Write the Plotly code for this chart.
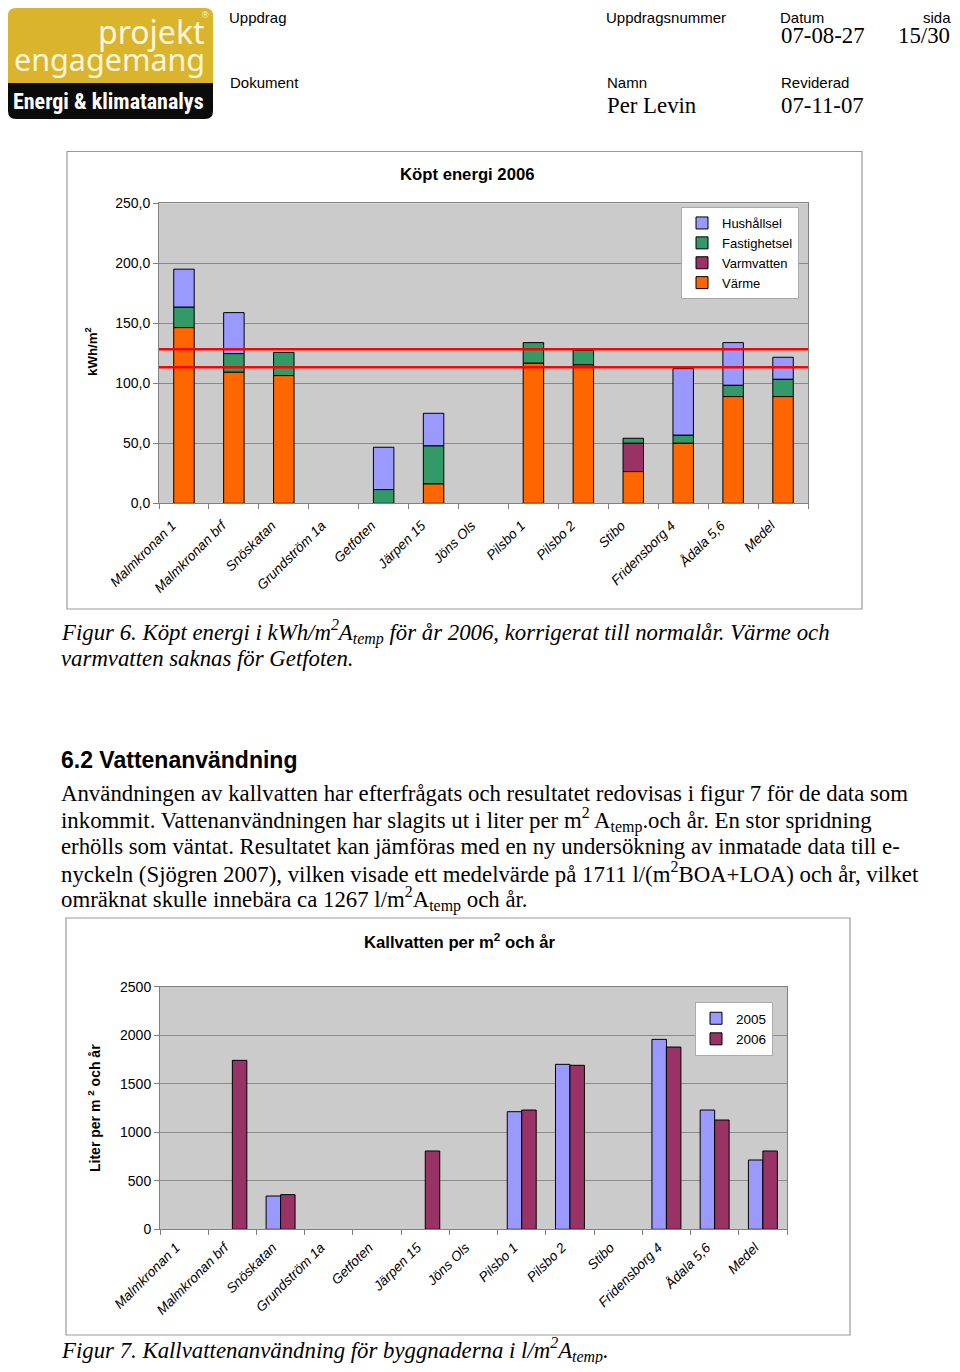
import plotly.graph_objects as go

# The page body has an 8px default margin. To avoid scrollbars the figure is
# 952x1356; all positions below are given in page pixels and shifted by 8.
OFF = 8
W, H = 960 - OFF, 1372 - 2 * OFF


def px(x):
    return (x - OFF) / W


def py(y):
    return 1 - (y - OFF) / H


# ---------------- data ----------------
categories = ["Malmkronan 1", "Malmkronan brf", "Snöskatan", "Grundström 1a", "Getfoten",
              "Järpen 15", "Jöns Ols", "Pilsbo 1", "Pilsbo 2", "Stibo", "Fridensborg 4",
              "Ådala 5,6", "Medel"]

varme = [146.4, 109.2, 106.4, 0, 0, 16.1, 0, 116.7, 115.3, 26.4, 50.0, 88.9, 88.9]
varmvatten = [0, 0, 0, 0, 0, 0, 0, 0, 0, 23.6, 0, 0, 0]
fastighetsel = [17.0, 15.5, 19.4, 0, 11.4, 31.7, 0, 17.2, 12.2, 4.2, 6.7, 9.4, 14.4]
hushallsel = [31.7, 34.2, 0, 0, 35.3, 27.2, 0, 0, 0, 0, 55.5, 35.6, 18.4]
ref_lines = [128.3, 113.3]

kallvatten_2005 = [0, 0, 343, 0, 0, 0, 0, 1212, 1700, 0, 1957, 1229, 714]
kallvatten_2006 = [0, 1741, 357, 0, 0, 807, 0, 1229, 1690, 0, 1878, 1126, 807]

SANS = "Liberation Sans, Arial, sans-serif"
SERIF = "Liberation Serif, Times New Roman, serif"


def nz(vals):
    return [v if v else None for v in vals]


fig = go.Figure()

# ---------------- chart 1: stacked ----------------
stack = [("Värme", varme, "#FF6600"), ("Varmvatten", varmvatten, "#993366"),
         ("Fastighetsel", fastighetsel, "#339966"), ("Hushållsel", hushallsel, "#9999FF")]
bases = []
run = [0.0] * len(categories)
for name, vals, col in stack:
    bases.append(list(run))
    run = [a + b for a, b in zip(run, vals)]

for (name, vals, col), base in reversed(list(zip(stack, bases))):
    fig.add_trace(go.Bar(
        x=categories, y=nz(vals), base=base, name=name, width=0.41,
        marker=dict(color=col, line=dict(color="black", width=1)),
        xaxis="x", yaxis="y", legend="legend"))

# ---------------- chart 2: grouped ----------------
fig.add_trace(go.Bar(x=categories, y=nz(kallvatten_2005), name="2005", offset=-0.3, width=0.3,
                     marker=dict(color="#9999FF", line=dict(color="black", width=1)),
                     xaxis="x2", yaxis="y2", legend="legend2"))
fig.add_trace(go.Bar(x=categories, y=nz(kallvatten_2006), name="2006", offset=0.0, width=0.3,
                     marker=dict(color="#993366", line=dict(color="black", width=1)),
                     xaxis="x2", yaxis="y2", legend="legend2"))

xcommon = dict(type="category", range=[-0.5, 12.5], tickangle=-45, ticks="outside",
               tickson="boundaries", ticklen=5, tickcolor="#808080", showline=True,
               linecolor="#808080", mirror=True, showgrid=False, fixedrange=True,
               automargin=False,
               tickfont=dict(family=SANS, size=13.6, color="black", style="italic"))
ycommon = dict(ticks="outside", ticklen=5, tickcolor="#808080", showline=True,
               linecolor="#808080", mirror=True, gridcolor="#8a8a8a", gridwidth=1,
               zeroline=False, automargin=False,
               tickfont=dict(family=SANS, size=14, color="black"))

fig.update_layout(
    width=W, height=H, margin=dict(l=0, r=0, t=0, b=0, pad=0, autoexpand=False),
    autosize=False, paper_bgcolor="white", plot_bgcolor="#CBCBCB", barmode="overlay",
    separators=",.", showlegend=True,
    xaxis=dict(domain=[px(159), px(808)], anchor="y", ticklabelshift=-12,
               ticklabelstandoff=8, **xcommon),
    yaxis=dict(domain=[py(503.3), py(203.3)], anchor="x", range=[0, 250], dtick=50,
               tickformat=".1f", **ycommon),
    xaxis2=dict(domain=[px(160), px(787)], anchor="y2", ticklabelshift=-8,
                ticklabelstandoff=4, **xcommon),
    yaxis2=dict(domain=[py(1229.3), py(986.7)], anchor="x2", range=[0, 2500], dtick=500,
                tickformat="d", **ycommon),
    legend=dict(x=px(681), y=py(207), xanchor="left", yanchor="top", bgcolor="white",
                bordercolor="#aaaaaa", borderwidth=1, traceorder="normal",
                font=dict(family=SANS, size=13, color="black"), itemwidth=30),
    legend2=dict(x=px(695), y=py(1002), xanchor="left", yanchor="top", bgcolor="white",
                 bordercolor="#aaaaaa", borderwidth=1, traceorder="normal",
                 font=dict(family=SANS, size=13.5, color="black"), itemwidth=30),
)

shapes = []
# red reference lines
for v in ref_lines:
    shapes.append(dict(type="line", xref="x domain", yref="y", x0=0, x1=1, y0=v, y1=v,
                       line=dict(color="#FF0000", width=2.5)))
# chart frames
for (x0, y0, x1, y1) in [(67, 151.5, 862, 609), (66, 918, 850, 1335)]:
    shapes.append(dict(type="rect", xref="paper", yref="paper", x0=px(x0), x1=px(x1),
                       y0=py(y1), y1=py(y0), line=dict(color="#999999", width=1.2)))


# logo
def rpath(x0, y0, x1, y1, r, top=True, bottom=True):
    rx, ry = r / W, r / H
    X0, X1, Y0, Y1 = px(x0), px(x1), py(y0), py(y1)  # Y0 top (larger)
    p = []
    if top:
        p.append(f"M{X0},{Y0 - ry} Q{X0},{Y0} {X0 + rx},{Y0} L{X1 - rx},{Y0} Q{X1},{Y0} {X1},{Y0 - ry}")
    else:
        p.append(f"M{X0},{Y0} L{X1},{Y0}")
    if bottom:
        p.append(f"L{X1},{Y1 + ry} Q{X1},{Y1} {X1 - rx},{Y1} L{X0 + rx},{Y1} Q{X0},{Y1} {X0},{Y1 + ry} Z")
    else:
        p.append(f"L{X1},{Y1} L{X0},{Y1} Z")
    return " ".join(p)


shapes.append(dict(type="path", xref="paper", yref="paper", path=rpath(8, 8, 213, 84, 8, True, False),
                   fillcolor="#DAB42C", line=dict(width=0)))
shapes.append(dict(type="path", xref="paper", yref="paper", path=rpath(8, 83, 213, 119, 8, False, True),
                   fillcolor="#0b0b0b", line=dict(width=0)))
fig.update_layout(shapes=shapes)

ann = []
PADX = 3  # annotation text box inner padding


def text(x, y, t, size, family=SANS, xanchor="left", yanchor="middle", color="black", **kw):
    if xanchor == "left":
        x -= PADX
    elif xanchor == "right":
        x += PADX
    ann.append(dict(x=px(x), y=py(y), xref="paper", yref="paper", text=t, showarrow=False,
                    xanchor=xanchor, yanchor=yanchor, align=kw.pop("align", "left"),
                    font=dict(family=family, size=size, color=color), **kw))


# logo texts
text(204, 31, "projekt", 32, family="Noto Sans, Liberation Sans", xanchor="right", color="#FFF6DC")
text(204, 59, "engagemang", 30.5, family="Noto Sans, Liberation Sans", xanchor="right", color="#FFF6DC")
text(205, 15, "®", 9, xanchor="center", color="#FFF6DC")
text(108, 101, "<b>Energi & klimatanalys</b>", 22,
     family="Liberation Sans Narrow, Roboto Condensed, Liberation Sans", xanchor="center", color="white")

# header (top row sits as high as the page allows)
TOP = 8
RIGHT = 949
text(231, TOP, "Uppdrag", 15, yanchor="top", borderpad=0)
text(608, TOP, "Uppdragsnummer", 15, yanchor="top", borderpad=0)
text(782, TOP, "Datum", 15, yanchor="top", borderpad=0)
text(RIGHT, TOP, "sida", 15, xanchor="right", yanchor="top", borderpad=0)
text(782, 36, "07-08-27", 22.8, family=SERIF)
text(RIGHT, 36, "15/30", 22.8, family=SERIF, xanchor="right")
text(231, 82, "Dokument", 15)
text(608, 82, "Namn", 15)
text(782, 82, "Reviderad", 15)
text(608, 106, "Per Levin", 22.8, family=SERIF)
text(782, 106, "07-11-07", 22.8, family=SERIF)

# chart titles and axis titles
text(467, 174, "<b>Köpt energi 2006</b>", 16.7, xanchor="center")
text(91, 352, "<b>kWh/m<sup>2</sup></b>", 13.3, xanchor="center", textangle=-90)
text(460, 941, "<b>Kallvatten per m<sup>2</sup> och år</b>", 16.7, xanchor="center")
text(94, 1108, "<b>Liter per m <sup>2</sup> och år</b>", 14, xanchor="center", textangle=-90)

# captions
CAP = 22.8
text(62, 632, "<i>Figur 6. Köpt energi i kWh/m<sup>2</sup>A<sub>temp</sub> för år 2006, korrigerat till normalår. Värme och</i>",
     CAP, family=SERIF)
text(62, 658, "<i>varmvatten saknas för Getfoten.</i>", CAP, family=SERIF)
text(62, 1350, "<i>Figur 7. Kallvattenanvändning för byggnaderna i l/m<sup>2</sup>A<sub>temp</sub>.</i>", CAP,
     family=SERIF)

# body
text(62, 760, "<b>6.2 Vattenanvändning</b>", 23)
body_lines = [
    "Användningen av kallvatten har efterfrågats och resultatet redovisas i figur 7 för de data som",
    "inkommit. Vattenanvändningen har slagits ut i liter per m<sup>2</sup> A<sub>temp</sub>.och år. En stor spridning",
    "erhölls som väntat. Resultatet kan jämföras med en ny undersökning av inmatade data till e-",
    "nyckeln (Sjögren 2007), vilken visade ett medelvärde på 1711 l/(m<sup>2</sup>BOA+LOA) och år, vilket",
    "omräknat skulle innebära ca 1267 l/m<sup>2</sup>A<sub>temp</sub> och år.",
]
for i, line in enumerate(body_lines):
    text(62, 793 + 26.5 * i, line, 22.8, family=SERIF)

fig.update_layout(annotations=ann)

fig.write_html("out.html")
